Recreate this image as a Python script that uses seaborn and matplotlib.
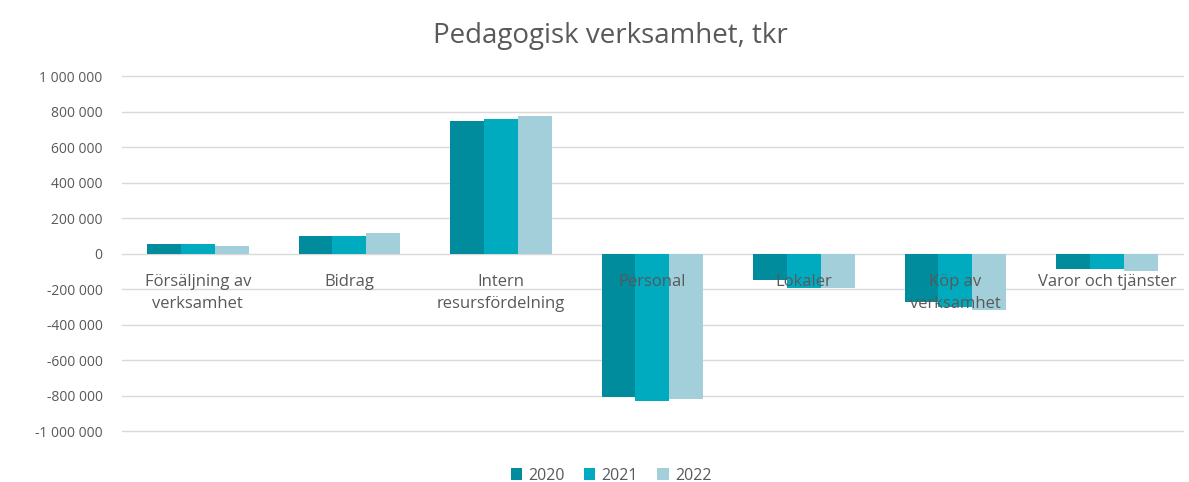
import matplotlib
matplotlib.use("Agg")
import matplotlib.pyplot as plt
import matplotlib.ticker as mticker
import seaborn as sns
import pandas as pd

categories = ["Försäljning av\nverksamhet", "Bidrag", "Intern\nresursfördelning", "Personal",
              "Lokaler", "Köp av\nverksamhet", "Varor och tjänster"]
years = ["2020", "2021", "2022"]
v2020 = [56000, 100000, 745000, -810000, -152000, -275000, -85000]
v2021 = [56000, 100000, 755000, -832000, -192000, -300000, -85000]
v2022 = [45000, 113000, 777000, -821000, -195000, -317000, -96000]
yticks = [-1000000, -800000, -600000, -400000, -200000, 0, 200000, 400000, 600000, 800000, 1000000]
colors = ["#008C9C", "#00ABC0", "#A3CFDA"]

rows = []
for y, vals in zip(years, [v2020, v2021, v2022]):
    for c, v in zip(categories, vals):
        rows.append({"Kategori": c, "År": y, "Värde": v})
df = pd.DataFrame(rows)

sns.set_theme(style="white")
plt.rcParams["font.family"] = ["Open Sans", "DejaVu Sans"]

fig = plt.figure(figsize=(11.89, 4.82), dpi=100)
ax = fig.add_axes([0.1026, 0.1058, 0.892, 0.7365])

for t in yticks:
    ax.axhline(t, color="#D9D9D9", linewidth=1, zorder=0, clip_on=False)

sns.barplot(data=df, x="Kategori", y="Värde", hue="År", palette=colors,
            width=0.67, gap=0, saturation=1, ax=ax, legend=True, errorbar=None,
            linewidth=0, zorder=1)

ax.set_ylim(-1000000, 1000000)
ax.set_yticks(yticks)
ax.yaxis.set_major_formatter(mticker.FuncFormatter(lambda v, p: f"{int(v):,}".replace(",", " ")))
ax.grid(False)
ax.set_axisbelow(False)
for s in ax.spines.values():
    s.set_visible(False)
ax.spines["bottom"].set_position(("data", 0))
ax.tick_params(axis="x", length=0, pad=15, labelsize=12, labelcolor="#595959")
ax.tick_params(axis="y", length=0, pad=14, labelsize=10, labelcolor="#595959")
for t in ax.get_xticklabels():
    t.set_multialignment("center")
    t.set_linespacing(1.45)
ax.set_xlabel("")
ax.set_ylabel("")

handles, labels = ax.get_legend_handles_labels()
ax.get_legend().remove()
fig.legend(handles, labels, loc="lower center", bbox_to_anchor=(0.514, -0.033), ncol=3,
           frameon=False, handlelength=0.7, handleheight=0.7, handletextpad=0.4,
           columnspacing=1.2, fontsize=11.5, labelcolor="#595959")

fig.suptitle("Pedagogisk verksamhet, tkr", x=0.513, y=0.955, fontsize=20, color="#595959")

fig.savefig("out.png", dpi=100)
